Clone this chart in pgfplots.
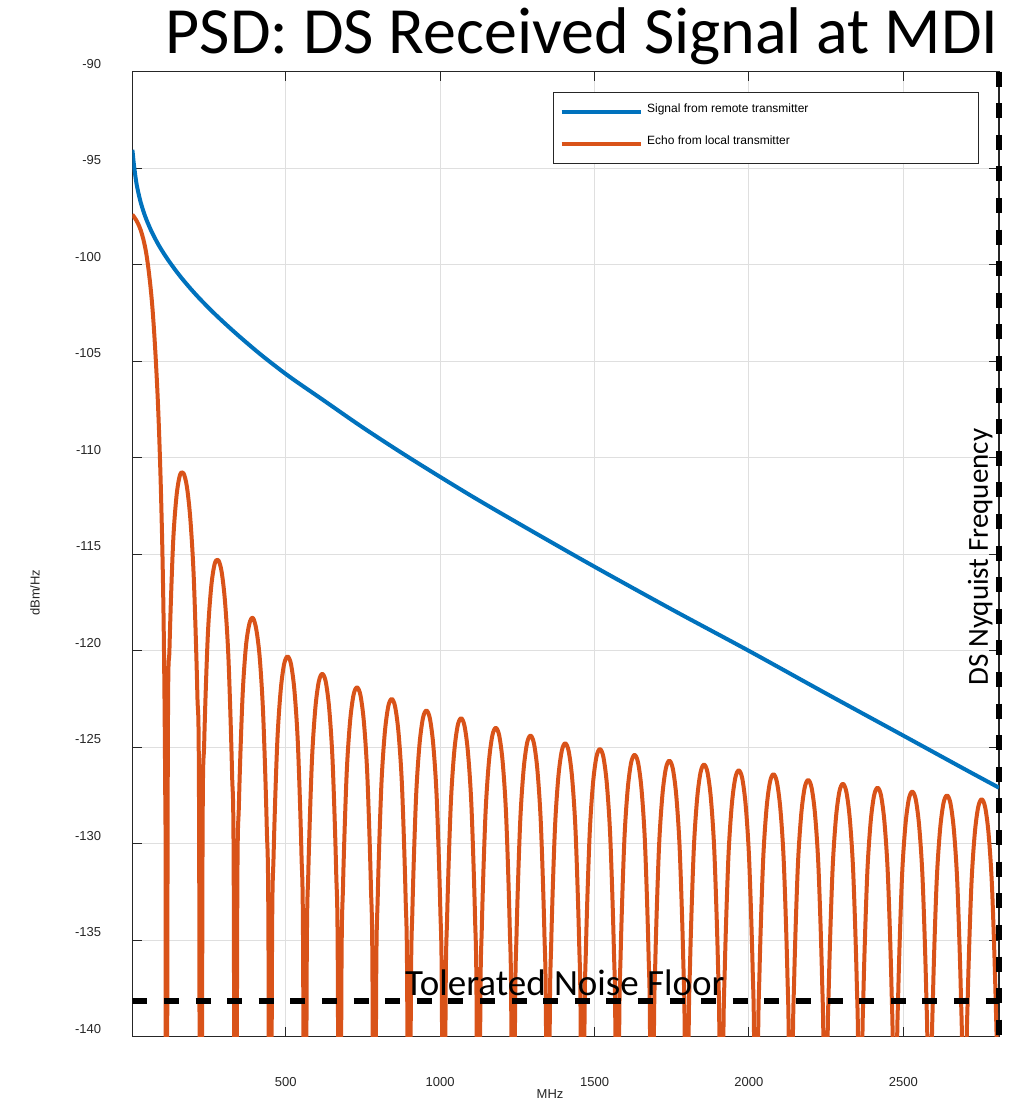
\documentclass[border=0pt]{standalone}
\usepackage{pgfplots}
\pgfplotsset{compat=1.18}
\usepackage{fontspec}
\setmainfont{Liberation Sans}
\newfontfamily\calibri{Carlito}
\definecolor{mblue}{RGB}{0,114,189}
\definecolor{morange}{RGB}{217,83,25}
\definecolor{axgray}{RGB}{38,38,38}
\definecolor{gridgray}{RGB}{223,223,223}
\begin{document}
\begin{tikzpicture}
\begin{axis}[
  scale only axis, width=433.35pt, height=482.5pt,
  xmin=3, xmax=2810, ymin=-140, ymax=-90,
  xtick={500,1000,1500,2000,2500},
  xticklabels={500,1000,1500,2000,2500},
  ytick={-140,-135,-130,-125,-120,-115,-110,-105,-100,-95,-90},
  yticklabels={-140,-135,-130,-125,-120,-115,-110,-105,-100,-95,-90},
  tick align=inside, major tick length=4.8pt,
  xtick pos=both, ytick pos=both, xticklabel pos=lower, yticklabel pos=left,
  tick style={axgray, line width=0.5pt},
  axis line style={axgray, line width=0.6pt},
  grid=major, major grid style={gridgray, line width=0.5pt},
  ticklabel style={font=\fontsize{6.5}{7}\selectfont, text=axgray},
  xticklabel style={anchor=center, inner sep=0pt, yshift=-22.5pt},
  yticklabel style={anchor=east, inner sep=0pt, xshift=-15.4pt, yshift=4pt},
  xlabel={MHz}, ylabel={dBm/Hz},
  label style={font=\fontsize{6.5}{7}\selectfont, text=axgray},
  xlabel style={at={(axis description cs:0.482,-0.0594)}, anchor=center},
  ylabel style={at={(axis description cs:-0.1123,0.46)}, anchor=center},
  title={PSD: DS Received Signal at MDI},
  title style={at={(axis description cs:0.519,1.0069)}, anchor=base, font=\calibri\fontsize{33}{36}\selectfont},
  legend style={at={(axis description cs:0.9766,0.9787)}, anchor=north east, draw=axgray, line width=0.6pt, fill=white,
    inner xsep=2.9pt, inner ysep=1.6pt, font=\fontsize{6}{7}\selectfont, row sep=0pt,
    nodes={inner sep=0pt}, /tikz/every odd column/.append style={column sep=2.1pt}},
  legend image code/.code={\path[draw=none,fill=none] (0pt,-8.4pt) rectangle (39.7pt,7.6pt);
    \draw[#1,line width=2pt] (0pt,-0.5pt) -- (39.7pt,-0.5pt);},
]
\addplot[mblue, line width=2pt, smooth, line join=round] coordinates {
(3.2,-94.05) (5,-94.3) (7,-94.65) (10,-95.05) (15,-95.64) (20,-96.08) (30,-96.76) (45,-97.51) (65,-98.27) (90,-99.03) (120,-99.78) (160,-100.64) (210,-101.57) (270,-102.55) (340,-103.58) (420,-104.67) (510,-105.78) (620,-107.0) (750,-108.44) (900,-110.0) (1100,-111.97) (1300,-113.83) (1500,-115.65) (1750,-117.86) (2000,-120.01) (2250,-122.22) (2500,-124.4) (2700,-126.15) (2810,-127.1)
};
\addlegendentry{\makebox[162.6pt][l]{\rule[-8.4pt]{0pt}{16pt}\raisebox{2.5pt}{Signal from remote transmitter}}}
\addplot[morange, line width=2pt, smooth, line join=round] coordinates {
(3,-97.4) (12,-97.6) (21,-97.85) (30,-98.2) (39,-98.7) (47,-99.3) (54,-100.05) (61,-101.0) (67,-102.0) (73,-103.3) (79,-104.9) (85,-106.8) (90,-108.8) (95,-111.3) (100,-114.5) (104,-118.0) (107,-122.0) (109.5,-127.0) (111,-133.0) (112.4,-170)
(118.0,-125.6) (123.6,-119.8) (134.9,-114.5) (146.1,-112.0) (157.4,-110.9) (168.6,-110.8) (179.8,-111.5) (191.1,-113.2) (202.3,-116.3) (213.6,-122.2) (219.2,-128.3) (224.8,-170)
(230.4,-130.5) (236.0,-124.7) (247.3,-119.3) (258.5,-116.7) (269.8,-115.5) (281.0,-115.3) (292.2,-115.9) (303.5,-117.5) (314.7,-120.5) (326.0,-126.3) (331.6,-132.3) (337.2,-170)
(342.8,-133.7) (348.4,-127.9) (359.7,-122.5) (370.9,-119.8) (382.2,-118.6) (393.4,-118.3) (404.6,-118.9) (415.9,-120.4) (427.1,-123.4) (438.4,-129.1) (444.0,-135.1) (449.6,-170)
(455.2,-136.4) (460.8,-130.5) (472.1,-124.9) (483.3,-122.1) (494.6,-120.7) (505.8,-120.3) (517.0,-120.7) (528.3,-122.1) (539.5,-124.9) (550.8,-130.5) (556.4,-136.4) (562.0,-170)
(567.6,-137.3) (573.2,-131.4) (584.5,-125.8) (595.7,-123.0) (607.0,-121.6) (618.2,-121.2) (629.4,-121.6) (640.7,-123.0) (651.9,-125.8) (663.2,-131.4) (668.8,-137.3) (674.4,-170)
(680.0,-138.0) (685.6,-132.1) (696.9,-126.5) (708.1,-123.7) (719.4,-122.3) (730.6,-121.9) (741.8,-122.3) (753.1,-123.7) (764.3,-126.5) (775.6,-132.1) (781.2,-138.0) (786.8,-170)
(792.4,-138.6) (798.0,-132.7) (809.3,-127.1) (820.5,-124.3) (831.8,-122.9) (843.0,-122.5) (854.2,-122.9) (865.5,-124.3) (876.7,-127.1) (888.0,-132.7) (893.6,-138.6) (899.2,-170)
(904.8,-139.2) (910.4,-133.3) (921.7,-127.7) (932.9,-124.9) (944.2,-123.5) (955.4,-123.1) (966.6,-123.5) (977.9,-124.9) (989.1,-127.7) (1000.4,-133.3) (1006.0,-139.2) (1011.6,-170)
(1017.2,-139.6) (1022.8,-133.7) (1034.1,-128.1) (1045.3,-125.3) (1056.6,-123.9) (1067.8,-123.5) (1079.0,-123.9) (1090.3,-125.3) (1101.5,-128.1) (1112.8,-133.7) (1118.4,-139.6) (1124.0,-170)
(1129.6,-140.1) (1135.2,-134.2) (1146.5,-128.6) (1157.7,-125.8) (1169.0,-124.4) (1180.2,-124.0) (1191.4,-124.4) (1202.7,-125.8) (1213.9,-128.6) (1225.2,-134.2) (1230.8,-140.1) (1236.4,-170)
(1242.0,-140.5) (1247.6,-134.6) (1258.9,-129.0) (1270.1,-126.2) (1281.4,-124.8) (1292.6,-124.4) (1303.8,-124.8) (1315.1,-126.2) (1326.3,-129.0) (1337.6,-134.6) (1343.2,-140.5) (1348.8,-170)
(1354.4,-140.9) (1360.0,-135.0) (1371.3,-129.4) (1382.5,-126.6) (1393.8,-125.2) (1405.0,-124.8) (1416.2,-125.2) (1427.5,-126.6) (1438.7,-129.4) (1450.0,-135.0) (1455.6,-140.9) (1461.2,-170)
(1466.8,-141.2) (1472.4,-135.3) (1483.7,-129.7) (1494.9,-126.9) (1506.2,-125.5) (1517.4,-125.1) (1528.6,-125.5) (1539.9,-126.9) (1551.1,-129.7) (1562.4,-135.3) (1568.0,-141.2) (1573.6,-170)
(1579.2,-141.5) (1584.8,-135.6) (1596.1,-130.0) (1607.3,-127.2) (1618.6,-125.8) (1629.8,-125.4) (1641.0,-125.8) (1652.3,-127.2) (1663.5,-130.0) (1674.8,-135.6) (1680.4,-141.5) (1686.0,-170)
(1691.6,-141.8) (1697.2,-135.9) (1708.5,-130.3) (1719.7,-127.5) (1731.0,-126.1) (1742.2,-125.7) (1753.4,-126.1) (1764.7,-127.5) (1775.9,-130.3) (1787.2,-135.9) (1792.8,-141.8) (1798.4,-170)
(1804.0,-142.0) (1809.6,-136.1) (1820.9,-130.5) (1832.1,-127.7) (1843.4,-126.3) (1854.6,-125.9) (1865.8,-126.3) (1877.1,-127.7) (1888.3,-130.5) (1899.6,-136.1) (1905.2,-142.0) (1910.8,-170)
(1916.4,-142.3) (1922.0,-136.4) (1933.3,-130.8) (1944.5,-128.0) (1955.8,-126.6) (1967.0,-126.2) (1978.2,-126.6) (1989.5,-128.0) (2000.7,-130.8) (2012.0,-136.4) (2017.6,-142.3) (2023.2,-170)
(2028.8,-142.5) (2034.4,-136.6) (2045.7,-131.0) (2056.9,-128.2) (2068.2,-126.8) (2079.4,-126.4) (2090.6,-126.8) (2101.9,-128.2) (2113.1,-131.0) (2124.4,-136.6) (2130.0,-142.5) (2135.6,-170)
(2141.2,-142.8) (2146.8,-136.9) (2158.1,-131.3) (2169.3,-128.5) (2180.6,-127.1) (2191.8,-126.7) (2203.0,-127.1) (2214.3,-128.5) (2225.5,-131.3) (2236.8,-136.9) (2242.4,-142.8) (2248.0,-170)
(2253.6,-143.0) (2259.2,-137.1) (2270.5,-131.5) (2281.7,-128.7) (2293.0,-127.3) (2304.2,-126.9) (2315.4,-127.3) (2326.7,-128.7) (2337.9,-131.5) (2349.2,-137.1) (2354.8,-143.0) (2360.4,-170)
(2366.0,-143.2) (2371.6,-137.3) (2382.9,-131.7) (2394.1,-128.9) (2405.4,-127.5) (2416.6,-127.1) (2427.8,-127.5) (2439.1,-128.9) (2450.3,-131.7) (2461.6,-137.3) (2467.2,-143.2) (2472.8,-170)
(2478.4,-143.4) (2484.0,-137.5) (2495.3,-131.9) (2506.5,-129.1) (2517.8,-127.7) (2529.0,-127.3) (2540.2,-127.7) (2551.5,-129.1) (2562.7,-131.9) (2574.0,-137.5) (2579.6,-143.4) (2585.2,-170)
(2590.8,-143.6) (2596.4,-137.7) (2607.7,-132.1) (2618.9,-129.3) (2630.2,-127.9) (2641.4,-127.5) (2652.6,-127.9) (2663.9,-129.3) (2675.1,-132.1) (2686.4,-137.7) (2692.0,-143.6) (2697.6,-170)
(2703.2,-143.8) (2708.8,-137.9) (2720.1,-132.3) (2731.3,-129.5) (2742.6,-128.1) (2753.8,-127.7) (2765.0,-128.1) (2776.3,-129.5) (2787.5,-132.3) (2798.8,-137.9) (2804.4,-143.8) (2810.0,-170)
};
\addlegendentry{\makebox[162.6pt][l]{\rule[-8.4pt]{0pt}{16pt}\raisebox{2.5pt}{Echo from local transmitter}}}
\addplot[black, line width=2.7pt, dash pattern=on 7.5pt off 8.3pt, forget plot] coordinates {(3,-138.15) (2810,-138.15)};
\node[anchor=base, font=\calibri\fontsize{18.5}{20}\selectfont, inner sep=0pt] at (axis cs:1404,-137.84) {Tolerated Noise Floor};
\node[anchor=base, rotate=90, font=\calibri\fontsize{14.5}{16}\selectfont, inner sep=0pt] at (axis cs:2774,-115.15) {DS Nyquist Frequency};
\coordinate (sw) at (rel axis cs:0,0);
\coordinate (ne) at (rel axis cs:1,1);
\coordinate (nyT) at (axis cs:2810,-90);
\coordinate (nyB) at (axis cs:2810,-140);
\end{axis}
\draw[black, line width=2.7pt, dash pattern=on 7.5pt off 8.3pt] (nyT) -- (nyB);
\pgfresetboundingbox
\path[use as bounding box] ([xshift=-66.15pt,yshift=-32.15pt]sw) rectangle ([xshift=5.5pt,yshift=35.85pt]ne);
\end{tikzpicture}
\end{document}
